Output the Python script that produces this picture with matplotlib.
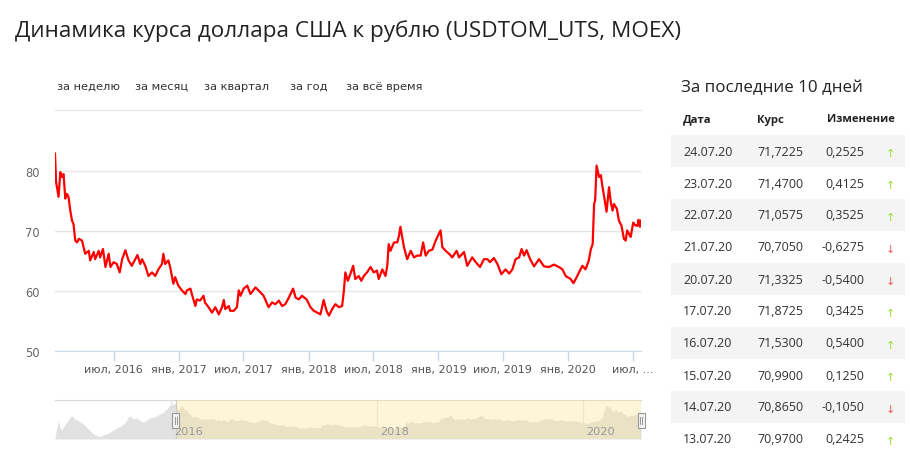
import matplotlib
matplotlib.use('Agg')
import matplotlib.pyplot as plt
import matplotlib.dates as mdates
from matplotlib.patches import Rectangle
from matplotlib.lines import Line2D
import pandas as pd

# курс USD/RUB (USDTOM_UTS)
main_dates = [
    '2016-01-18', '2016-01-21', '2016-01-28', '2016-02-02', '2016-02-06', '2016-02-11', '2016-02-16',
    '2016-02-20', '2016-02-25', '2016-03-01', '2016-03-06', '2016-03-10', '2016-03-15', '2016-03-20',
    '2016-03-25', '2016-04-03', '2016-04-12', '2016-04-22', '2016-04-26', '2016-05-06', '2016-05-10',
    '2016-05-20', '2016-05-24', '2016-06-01', '2016-06-08', '2016-06-17', '2016-06-22', '2016-07-01',
    '2016-07-10', '2016-07-18', '2016-07-25', '2016-08-03', '2016-08-12', '2016-08-21', '2016-08-31',
    '2016-09-06', '2016-09-14', '2016-09-19', '2016-09-28', '2016-10-07', '2016-10-17', '2016-10-26',
    '2016-11-04', '2016-11-14', '2016-11-18', '2016-11-23', '2016-12-02', '2016-12-07', '2016-12-16',
    '2016-12-21', '2016-12-30', '2017-01-09', '2017-01-19', '2017-01-23', '2017-02-02', '2017-02-06',
    '2017-02-16', '2017-02-20', '2017-03-01', '2017-03-11', '2017-03-15', '2017-03-25', '2017-04-04',
    '2017-04-13', '2017-04-23', '2017-05-02', '2017-05-07', '2017-05-11', '2017-05-21', '2017-05-25',
    '2017-06-04', '2017-06-13', '2017-06-18', '2017-06-23', '2017-07-02', '2017-07-12', '2017-07-21',
    '2017-08-04', '2017-08-13', '2017-08-27', '2017-09-10', '2017-09-20', '2017-09-29', '2017-10-09',
    '2017-10-18', '2017-10-27', '2017-11-06', '2017-11-18', '2017-11-25', '2017-12-04', '2017-12-13',
    '2017-12-26', '2018-01-06', '2018-01-15', '2018-01-25', '2018-02-03', '2018-02-12', '2018-02-20',
    '2018-02-27', '2018-03-08', '2018-03-17', '2018-03-27', '2018-04-05', '2018-04-10', '2018-04-14',
    '2018-04-21', '2018-04-28', '2018-05-06', '2018-05-12', '2018-05-22', '2018-05-29', '2018-06-05',
    '2018-06-14', '2018-06-24', '2018-07-03', '2018-07-12', '2018-07-17', '2018-07-27', '2018-08-05',
    '2018-08-10', '2018-08-14', '2018-08-19', '2018-08-29', '2018-09-07', '2018-09-12', '2018-09-16',
    '2018-09-21', '2018-09-26', '2018-10-05', '2018-10-15', '2018-10-24', '2018-11-02', '2018-11-12',
    '2018-11-19', '2018-11-26', '2018-12-05', '2018-12-15', '2018-12-25', '2019-01-07', '2019-01-12',
    '2019-01-21', '2019-01-31', '2019-02-09', '2019-02-21', '2019-02-28', '2019-03-14', '2019-03-23',
    '2019-04-06', '2019-04-16', '2019-04-28', '2019-05-09', '2019-05-19', '2019-05-26', '2019-06-06',
    '2019-06-16', '2019-06-27', '2019-07-09', '2019-07-19', '2019-07-28', '2019-08-06', '2019-08-16',
    '2019-08-23', '2019-08-30', '2019-09-06', '2019-09-16', '2019-09-27', '2019-10-11', '2019-10-25',
    '2019-11-08', '2019-11-22', '2019-12-06', '2019-12-16', '2019-12-25', '2020-01-08', '2020-01-16',
    '2020-01-25', '2020-02-03', '2020-02-10', '2020-02-19', '2020-02-28', '2020-03-05', '2020-03-10',
    '2020-03-14', '2020-03-17', '2020-03-21', '2020-03-28', '2020-04-02', '2020-04-06', '2020-04-13',
    '2020-04-18', '2020-04-25', '2020-04-30', '2020-05-05', '2020-05-09', '2020-05-17', '2020-05-23',
    '2020-05-30', '2020-06-06', '2020-06-11', '2020-06-15', '2020-06-25', '2020-07-02', '2020-07-09',
    '2020-07-13', '2020-07-14', '2020-07-15', '2020-07-16', '2020-07-17', '2020-07-20', '2020-07-21',
    '2020-07-22', '2020-07-23', '2020-07-24',
]
main_values = [
    82.9, 78.2, 75.7, 79.8, 79.0, 79.5, 75.4,
    76.2, 75.7, 73.4, 71.7, 71.2, 68.4, 68.1,
    68.7, 68.4, 66.2, 66.7, 65.1, 66.5, 65.3,
    66.7, 65.6, 67.0, 64.0, 66.2, 64.0, 64.8,
    64.5, 63.1, 65.3, 66.8, 65.1, 64.2, 65.3,
    66.0, 64.5, 65.3, 64.2, 62.5, 63.1, 62.5,
    63.6, 64.5, 66.2, 64.5, 65.1, 64.0, 61.2,
    62.3, 60.9, 60.1, 59.5, 60.1, 60.4, 59.5,
    57.5, 58.6, 58.4, 59.2, 58.1, 57.3, 56.4,
    57.3, 56.1, 57.3, 58.5, 57.0, 57.5, 56.7,
    56.7, 57.3, 60.1, 59.2, 60.4, 60.9, 59.5,
    60.6, 60.1, 59.2, 57.3, 58.1, 57.8, 58.4,
    57.5, 57.8, 58.9, 60.4, 58.9, 58.6, 59.2,
    58.6, 57.3, 56.7, 56.4, 56.1, 58.5, 56.7,
    55.9, 57.0, 57.8, 57.3, 57.5, 60.1, 63.1,
    61.7, 62.8, 64.2, 62.0, 62.5, 61.7, 62.5,
    63.1, 64.0, 63.1, 63.4, 62.0, 63.6, 62.5,
    64.2, 67.8, 66.7, 68.1, 68.1, 69.2, 70.7,
    69.0, 67.3, 65.3, 66.7, 65.6, 65.9, 65.9,
    68.1, 65.9, 66.7, 66.9, 68.5, 70.1, 67.3,
    66.7, 66.2, 65.6, 66.7, 65.6, 66.5, 64.2,
    65.6, 64.8, 64.0, 65.3, 65.3, 64.8, 65.5,
    64.5, 62.8, 63.6, 62.9, 63.6, 65.3, 65.6,
    67.0, 65.9, 66.8, 65.3, 64.1, 65.3, 64.1,
    64.0, 64.4, 64.0, 63.6, 62.5, 62.0, 61.3,
    62.3, 63.4, 64.2, 63.6, 65.1, 67.0, 67.8,
    74.5, 75.1, 80.9, 79.0, 79.3, 77.6, 75.1,
    73.2, 77.3, 74.8, 73.4, 74.5, 73.7, 71.7,
    70.9, 68.7, 68.4, 70.1, 69.0, 71.4, 70.9,
    70.97, 70.865, 70.99, 71.53, 71.8725, 71.3325, 70.705,
    71.0575, 71.47, 71.7225,
]

# навигатор: более ранний участок истории
nav_dates = [
    '2014-11-15', '2014-11-21', '2014-11-27', '2014-12-03', '2014-12-09', '2014-12-14', '2014-12-27',
    '2015-01-07', '2015-01-13', '2015-01-25', '2015-02-06', '2015-02-24', '2015-03-07', '2015-03-19',
    '2015-03-31', '2015-04-12', '2015-04-24', '2015-05-06', '2015-05-18', '2015-05-29', '2015-06-16',
    '2015-06-28', '2015-07-10', '2015-07-22', '2015-08-02', '2015-08-08', '2015-08-20', '2015-09-01',
    '2015-09-13', '2015-09-25', '2015-10-07', '2015-10-18', '2015-10-30', '2015-11-11', '2015-11-23',
    '2015-12-05', '2015-12-17', '2015-12-26',
]
nav_values = [
    46.8, 55.6, 64.3, 57.4, 53.8, 57.4, 62.6,
    67.9, 69.6, 66.1, 64.3, 60.8, 57.4, 53.8,
    50.3, 48.5, 47.5, 49.6, 50.3, 52.1, 55.6,
    57.4, 59.1, 62.6, 67.9, 69.6, 66.1, 67.2,
    64.3, 62.6, 65.1, 67.2, 67.9, 69.6, 71.4,
    73.2, 76.7, 80.2,
]

x_tick_dates = ['2016-07-01', '2017-01-01', '2017-07-01', '2018-01-01', '2018-07-01',
                '2019-01-01', '2019-07-01', '2020-01-01', '2020-07-01']
x_tick_labels = ['июл, 2016', 'янв, 2017', 'июл, 2017', 'янв, 2018', 'июл, 2018',
                 'янв, 2019', 'июл, 2019', 'янв, 2020', 'июл, ...']
y_ticks = [50, 60, 70, 80]
nav_years = ['2016', '2018', '2020']

range_buttons = ['за неделю', 'за месяц', 'за квартал', 'за год', 'за всё время']

table_dates = ['24.07.20', '23.07.20', '22.07.20', '21.07.20', '20.07.20',
               '17.07.20', '16.07.20', '15.07.20', '14.07.20', '13.07.20']
table_rates = ['71,7225', '71,4700', '71,0575', '70,7050', '71,3325',
               '71,8725', '71,5300', '70,9900', '70,8650', '70,9700']
table_changes = ['0,2525', '0,4125', '0,3525', '-0,6275', '-0,5400',
                 '0,3425', '0,5400', '0,1250', '-0,1050', '0,2425']

W, H = 910, 460


def fx(x):
    return x / W


def fy(y):
    return 1 - y / H


fig = plt.figure(figsize=(W / 100, H / 100), dpi=100)
fig.patch.set_facecolor('white')

TXT = 'Open Sans'

fig.text(fx(15), fy(31), 'Динамика курса доллара США к рублю (USDTOM_UTS, MOEX)',
         fontsize=16.2, family=TXT, color='#222222', va='center', ha='left')

# кнопки периода
btn_x = [57, 135, 204, 290, 346]
for bx, label in zip(btn_x, range_buttons):
    fig.text(fx(bx), fy(87), label, fontsize=8.2, color='#333333', va='center', ha='left')
fig.add_artist(Line2D([fx(55), fx(641)], [fy(111), fy(111)], color='#e6e6e6', lw=1,
                      transform=fig.transFigure))

# основной график
dates = pd.to_datetime(main_dates)
ax = fig.add_axes([fx(55), fy(352), fx(586), 210 / H])
ax.plot(dates, main_values, color='#ff0000', lw=1.6, solid_joinstyle='round', zorder=3)
ax.set_xlim(dates[0], dates[-1])
ax.set_ylim(50, 85)
ax.set_yticks(y_ticks)
ax.yaxis.grid(True, color='#e6e6e6', lw=1)
ax.set_axisbelow(True)
for side in ['top', 'right', 'left']:
    ax.spines[side].set_visible(False)
ax.spines['bottom'].set_color('#ccd6eb')
ax.tick_params(axis='y', length=0, pad=11, labelsize=8.3, labelcolor='#666666')
ax.set_xticks(pd.to_datetime(x_tick_dates))
ax.set_xticklabels(x_tick_labels)
ax.tick_params(axis='x', length=7.5, width=1, color='#ccd6eb', pad=1.5,
               labelsize=8.0, labelcolor='#555555')

# навигатор
nav_all_dates = pd.to_datetime(nav_dates + main_dates)
nav_all_values = nav_values + main_values
axn = fig.add_axes([fx(55), fy(440), fx(586), 39 / H])
axn.set_xlim(nav_all_dates[0], nav_all_dates[-1])
axn.set_ylim(45, 86.2)
for yr in nav_years:
    d = pd.Timestamp(yr + '-01-01')
    axn.axvline(d, color='#e6e6e6', lw=1, zorder=1)
    axn.annotate(yr, xy=(d, 0.2), xycoords=('data', 'axes fraction'), xytext=(2, 0),
                 textcoords='offset points', va='center', ha='left', fontsize=8.2,
                 color='#999999', zorder=6)
axn.fill_between(nav_all_dates, nav_all_values, 45, color='#e1e1e1', lw=0, zorder=2)
axn.axvspan(dates[0], dates[-1], color=(250 / 255, 230 / 255, 155 / 255), alpha=0.4, lw=0, zorder=3)
axn.axvline(dates[0], color='#cccccc', lw=0.8, zorder=4)
axn.axvline(dates[-1], color='#cccccc', lw=0.8, zorder=4)
axn.set_xticks([])
axn.set_yticks([])
for side in ['right', 'left', 'bottom']:
    axn.spines[side].set_visible(False)
axn.spines['top'].set_color('#d8d8d8')

# ручки навигатора
for d in [dates[0], dates[-1]]:
    px = axn.transData.transform((mdates.date2num(d), 0))[0]
    hx = px / fig.dpi / fig.get_figwidth() * W
    fig.add_artist(Rectangle((fx(hx - 3.5), fy(429)), 7 / W, 15 / H, facecolor='#f2f2f2',
                             edgecolor='#999999', lw=0.8, transform=fig.transFigure, zorder=7))
    for dx in (-1.2, 1.2):
        fig.add_artist(Line2D([fx(hx + dx), fx(hx + dx)], [fy(425), fy(418)], color='#999999',
                              lw=0.7, transform=fig.transFigure, zorder=8))

# таблица за последние 10 дней
fig.text(fx(681), fy(88), 'За последние 10 дней', fontsize=12.2, family=TXT,
         color='#222222', va='center', ha='left')
for hx_, head in zip([683, 757, 827], ['Дата', 'Курс', 'Изменение']):
    fig.text(fx(hx_), fy(120), head, fontsize=8.1, family=TXT, weight='bold',
             color='#222222', va='center')

for i, (dt, rate, chg) in enumerate(zip(table_dates, table_rates, table_changes)):
    top = 136 + 32 * i
    if i % 2 == 0:
        fig.add_artist(Rectangle((fx(671), fy(top + 32)), fx(234), 32 / H, facecolor='#f4f4f4',
                                 edgecolor='none', transform=fig.transFigure, zorder=0))
    yc = fy(top + 16)
    fig.text(fx(683), yc, dt, fontsize=9.0, family=TXT, color='#333333', va='center')
    fig.text(fx(757), yc, rate, fontsize=9.0, family=TXT, color='#333333', va='center')
    fig.text(fx(864), yc, chg, fontsize=9.0, family=TXT, color='#333333', va='center', ha='right')
    up = not chg.startswith('-')
    fig.text(fx(890), fy(top + 18), '↑' if up else '↓', fontsize=8,
             color='#99dd33' if up else '#f25a5a', va='center', ha='center')

fig.savefig('out.png', dpi=100, facecolor='white')
